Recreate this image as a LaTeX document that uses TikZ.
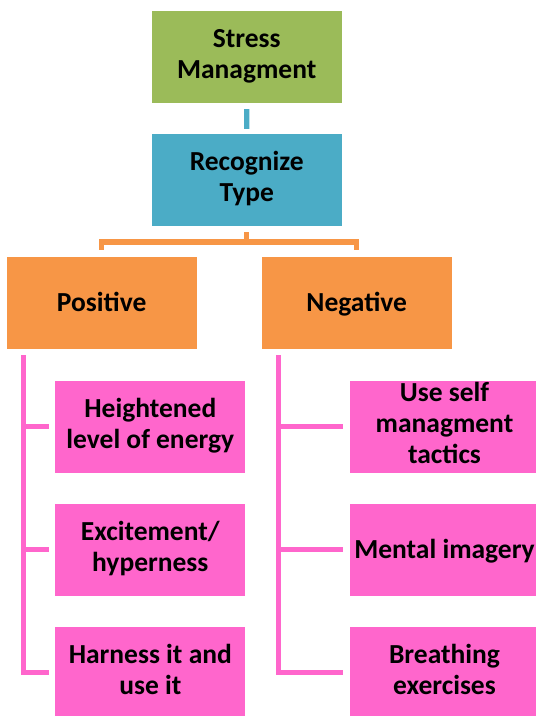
\documentclass[tikz,border=0pt]{standalone}
\usepackage{fontspec}
\setmainfont{Carlito}
\usetikzlibrary{trees}

\definecolor{stressgreen}{RGB}{155,187,89}
\definecolor{typeblue}{RGB}{75,172,198}
\definecolor{kindorange}{RGB}{247,150,70}
\definecolor{tippink}{RGB}{255,102,204}

% line strut so every box centres its text the same way
\newcommand\boxstrut{\rule[-6.8pt]{0pt}{31pt}}

\tikzset{
	box/.style={minimum width=190pt,minimum height=92pt,inner sep=0pt,align=center,
		font=\fontsize{27.5}{31}\selectfont\bfseries,
		execute at begin node=\boxstrut,execute at end node=\boxstrut},
	kidright/.style={grow via three points={one child at (87.8,-123.5) and two children at (87.8,-123.5) and (87.8,-246.5)}}
}

\begin{document}
\begin{tikzpicture}[x=1pt,y=1pt,
	level 1/.style={level distance=123pt,
		edge from parent/.style={draw=typeblue,line width=5.3pt},
		edge from parent path={([yshift=-6pt]\tikzparentnode.south) -- ([yshift=5pt]\tikzchildnode.north)}},
	level 2/.style={grow via three points={one child at (0,-123) and two children at (-145,-123) and (110,-123)},
		edge from parent/.style={draw=kindorange,line width=5.5pt},
		edge from parent path={([yshift=-6pt]\tikzparentnode.south) -- ++(0,-10) -| ([yshift=7pt]\tikzchildnode.north)}},
	level 3/.style={grow via three points={one child at (48.6,-123.5) and two children at (48.6,-123.5) and (48.6,-246.5)},
		edge from parent/.style={draw=tippink,line width=5.7pt},
		edge from parent path={([xshift=17pt,yshift=-6pt]\tikzparentnode.south west) |- ([xshift=-6pt]\tikzchildnode.west)}}
	]
	\useasboundingbox (0,0) rectangle (536,-716);
	\node[box,fill=stressgreen] (stress) at (246.7,-57) {Stress\\Managment}
	child {node[box,fill=typeblue] (recog) {Recognize\\Type}
		child {node[box,fill=kindorange] (pos) {Positive}
			child {node[box,fill=tippink] (pos1) {Heightened\\level of energy}}
			child {node[box,fill=tippink] (pos2) {Excitement/\\hyperness}}
			child {node[box,fill=tippink] (pos3) {Harness it and\\use it}}
		}
		child {node[box,fill=kindorange] (neg) {Negative}
			child[kidright] {node[box,fill=tippink] (neg1) {Use self\\managment\\tactics}}
			child[kidright] {node[box,fill=tippink] (neg2) {Mental imagery}}
			child[kidright] {node[box,fill=tippink] (neg3) {Breathing\\exercises}}
		}
	};
	
\end{tikzpicture}
\end{document}
